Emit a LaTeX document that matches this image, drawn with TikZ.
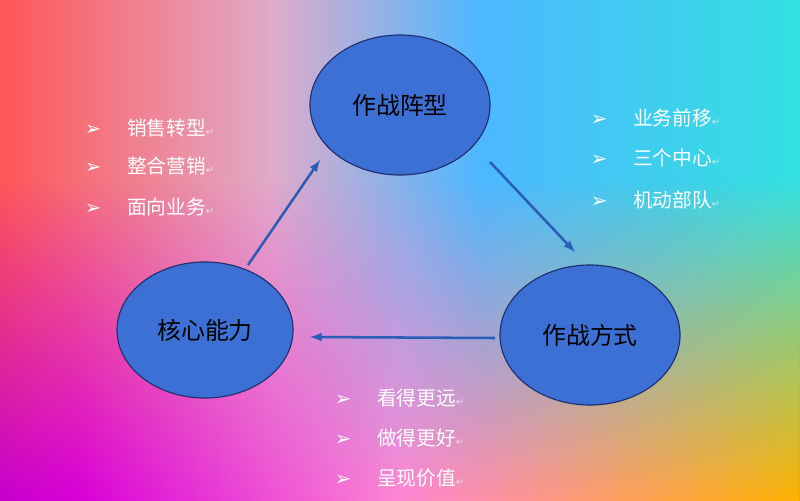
\documentclass[tikz,border=0pt]{standalone}
\usepackage{fontspec}
\newfontfamily\cjk{Noto Sans CJK SC}
\newfontfamily\symb{DejaVu Sans}
\usetikzlibrary{shapes.geometric,fadings}
\definecolor{nodeblue}{HTML}{3C70D4}
\definecolor{edgenavy}{HTML}{1E2F6E}
\definecolor{arrowblue}{HTML}{2A5DB5}
\pgfdeclarehorizontalshading{bgtop}{100bp}{color(0bp)=(red!80!orange); color(25bp)=(red!55!pink); color(42bp)=(pink!60!violet!60!white); color(55bp)=(cyan!60!blue!70!white); color(75bp)=(cyan!70!teal!80); color(100bp)=(green!50!teal!70)}
\pgfdeclarehorizontalshading{bgbot}{100bp}{color(0bp)=(violet!85!blue); color(30bp)=(magenta!70!violet); color(50bp)=(pink!70!magenta); color(75bp)=(orange!60!yellow); color(100bp)=(yellow!90!orange)}
\newcommand{\itm}[1]{{\symb\char"27A2}\hspace{1.3em}{\cjk #1}{\symb\scriptsize\color{white!80!gray}\char"21B5}}
\begin{document}
\begin{tikzpicture}[x=0.025cm,y=-0.025cm,
  main/.style = {draw=edgenavy, thick, fill=nodeblue, ellipse, font=\cjk\fontsize{17}{20}\selectfont, text=black},
  item/.style = {anchor=west, text=white, font=\fontsize{14}{16}\selectfont},
  link/.style = {-latex, arrowblue, line width=1.8pt}]
  % background
  \useasboundingbox (0,0) rectangle (800,500);
  \shade[shading=bgtop] (0,0) rectangle (800,500);
  \shade[shading=bgbot, path fading=north] (0,180) rectangle (800,500);
  % nodes
  \node[main, minimum width=4.5cm, minimum height=3.5cm] (zz) at (400,105) {作战阵型};
  \node[main, minimum width=4.5cm, minimum height=3.5cm] (fs) at (590,335) {作战方式};
  \node[main, minimum width=4.4cm, minimum height=3.4cm] (nl) at (205,330) {核心能力};
  % connectors
  \coordinate (a1) at (490,162); \coordinate (a2) at (575,252);
  \coordinate (b1) at (495,338); \coordinate (b2) at (310,337);
  \coordinate (c1) at (248,265); \coordinate (c2) at (320,160);
  \draw[link] (a1) -- (a2);
  \draw[link] (b1) -- (b2);
  \draw[link] (c1) -- (c2);
  % lists
  \node[item] (l1) at (80,128) {\itm{销售转型}};
  \node[item] (l2) at (80,166) {\itm{整合营销}};
  \node[item] (l3) at (80,207) {\itm{面向业务}};
  \node[item] (r1) at (586,118) {\itm{业务前移}};
  \node[item] (r2) at (586,158) {\itm{三个中心}};
  \node[item] (r3) at (586,200) {\itm{机动部队}};
  \node[item] (d1) at (330,398) {\itm{看得更远}};
  \node[item] (d2) at (330,438) {\itm{做得更好}};
  \node[item] (d3) at (330,478) {\itm{呈现价值}};
\end{tikzpicture}
\end{document}
